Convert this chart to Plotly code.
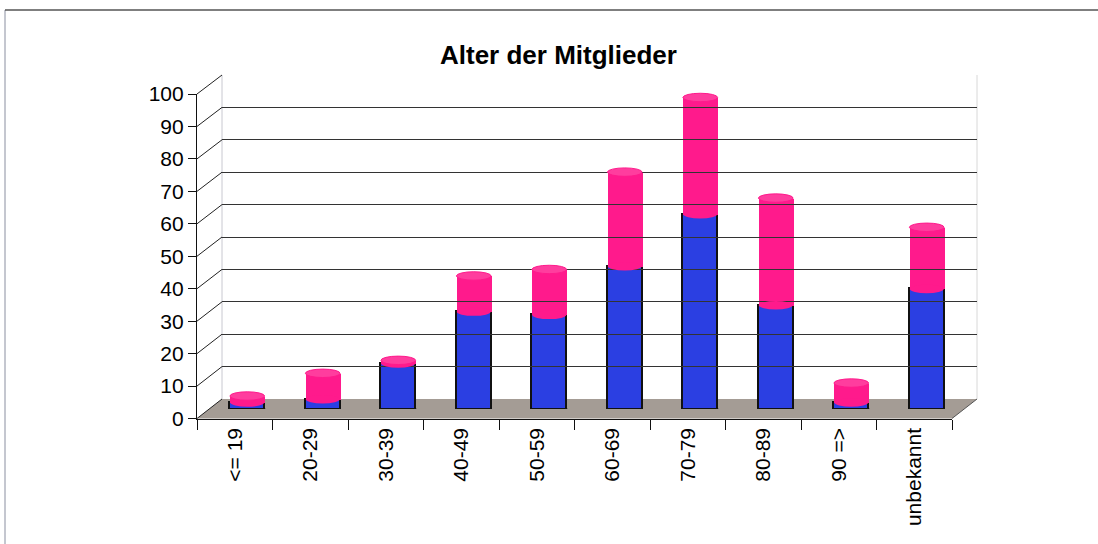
import plotly.graph_objects as go

# ---- data ----
categories = ["<= 19", "20-29", "30-39", "40-49", "50-59", "60-69", "70-79", "80-89", "90 =>", "unbekannt"]
blue_values = [2, 3, 14, 30, 29, 44, 60, 32, 2, 37]
pink_values = [2, 8, 1, 11, 14, 29, 36, 33, 6, 19]
y_ticks = list(range(0, 101, 10))
title_text = "Alter der Mitglieder"

W, H = 1098, 544
BLUE = "#2b3fe2"
PINK = "#ff1a8c"
PINK_TOP = "#ff3d9e"
FLOOR = "#a49c95"


def fx(px):
    return px / W


def fy(py):
    return (H - py) / H


# geometry of the pseudo-3D box (front, middle-depth, back)
FRONT_X = (197, 952); FRONT_Y = (418.5, 94)
MID_X = (209.5, 964.5); MID_Y = (409, 84.5)
BACK_X = (222, 977); BACK_Y = (399, 75)

idx = list(range(len(categories)))
totals = [b + p for b, p in zip(blue_values, pink_values)]
BW = 0.46
CAP = 1.3

fig = go.Figure()

# invisible trace to register the categories on the front axis
fig.add_trace(go.Scatter(x=categories, y=[0] * len(categories), mode="markers",
                         marker=dict(opacity=0), hoverinfo="skip", showlegend=False,
                         xaxis="x", yaxis="y"))
# invisible trace for back wall axes
fig.add_trace(go.Scatter(x=[0], y=[0], mode="markers", marker=dict(opacity=0),
                         hoverinfo="skip", showlegend=False, xaxis="x3", yaxis="y3"))

fig.add_trace(go.Bar(x=idx, y=blue_values, width=BW, marker=dict(color=BLUE, line=dict(color="#111", width=1.5)),
                     xaxis="x2", yaxis="y2", showlegend=False, name="blau"))
fig.add_trace(go.Bar(x=idx, y=pink_values, width=BW, marker=dict(color=PINK, line=dict(width=0)),
                     xaxis="x2", yaxis="y2", showlegend=False, name="pink"))

shapes = []
# floor
shapes.append(dict(type="path", xref="paper", yref="paper", layer="below",
                   path=f"M {fx(FRONT_X[0])},{fy(FRONT_Y[0])} L {fx(FRONT_X[1])},{fy(FRONT_Y[0])} "
                        f"L {fx(BACK_X[1])},{fy(BACK_Y[0])} L {fx(BACK_X[0])},{fy(BACK_Y[0])} Z",
                   fillcolor=FLOOR, line=dict(width=0)))
# back wall edges
shapes.append(dict(type="line", xref="paper", yref="paper", layer="below",
                   x0=fx(BACK_X[0]), x1=fx(BACK_X[0]), y0=fy(BACK_Y[0]), y1=fy(BACK_Y[1]),
                   line=dict(color="#c8c8d0", width=1)))
shapes.append(dict(type="line", xref="paper", yref="paper", layer="below",
                   x0=fx(BACK_X[1]), x1=fx(BACK_X[1]), y0=fy(BACK_Y[0]), y1=fy(BACK_Y[1]),
                   line=dict(color="#d8d8d8", width=1)))
# side wall slant lines
for t in y_ticks:
    yf = FRONT_Y[0] + (FRONT_Y[1] - FRONT_Y[0]) * t / 100
    yb = BACK_Y[0] + (BACK_Y[1] - BACK_Y[0]) * t / 100
    shapes.append(dict(type="line", xref="paper", yref="paper",
                       x0=fx(FRONT_X[0]), y0=fy(yf), x1=fx(BACK_X[0]), y1=fy(yb),
                       line=dict(color="#222", width=1)))
# right floor edge
shapes.append(dict(type="line", xref="paper", yref="paper",
                   x0=fx(FRONT_X[1]), y0=fy(FRONT_Y[0]), x1=fx(BACK_X[1]), y1=fy(BACK_Y[0]),
                   line=dict(color="#555", width=1)))
# cylinder bottoms, boundaries and tops
for i in idx:
    shapes.append(dict(type="circle", xref="x2", yref="y2", layer="below",
                       x0=i - BW / 2, x1=i + BW / 2, y0=-CAP, y1=CAP,
                       fillcolor=BLUE, line=dict(color="#111", width=1.5)))
    shapes.append(dict(type="circle", xref="x2", yref="y2", layer="above",
                       x0=i - BW / 2 + 0.005, x1=i + BW / 2 - 0.005,
                       y0=blue_values[i] - CAP, y1=blue_values[i] + CAP,
                       fillcolor=PINK, line=dict(width=0)))
    shapes.append(dict(type="circle", xref="x2", yref="y2", layer="above",
                       x0=i - BW / 2, x1=i + BW / 2, y0=totals[i] - CAP, y1=totals[i] + CAP,
                       fillcolor=PINK_TOP, line=dict(color=PINK, width=1)))
# outer frame
shapes.append(dict(type="line", xref="paper", yref="paper", x0=fx(5), x1=fx(5), y0=0, y1=fy(10),
                   line=dict(color="#8a8fa0", width=1)))
shapes.append(dict(type="line", xref="paper", yref="paper", x0=fx(5), x1=1, y0=fy(10), y1=fy(10),
                   line=dict(color="#555", width=1.5)))

font_family = "Arial, Liberation Sans, sans-serif"

fig.update_layout(
    width=W, height=H,
    margin=dict(l=0, r=0, t=0, b=0),
    paper_bgcolor="white", plot_bgcolor="rgba(0,0,0,0)",
    barmode="stack", bargap=0,
    showlegend=False,
    font=dict(family=font_family, color="black"),
    shapes=shapes,
    xaxis=dict(domain=[fx(FRONT_X[0]), fx(FRONT_X[1])], anchor="y", type="category",
               categoryorder="array", categoryarray=categories, range=[-0.5, len(categories) - 0.5],
               showline=True, linecolor="#111", linewidth=1.2, ticks="outside", tickson="boundaries",
               ticklen=10, tickcolor="#111", tickangle=-90, tickfont=dict(size=21, family=font_family),
               showgrid=False, zeroline=False, automargin=False),
    yaxis=dict(domain=[fy(FRONT_Y[0]), fy(FRONT_Y[1])], anchor="x", range=[0, 100],
               tickvals=y_ticks, ticks="outside", ticklen=8, tickcolor="#111",
               showline=True, linecolor="#111", linewidth=1.2, showgrid=False, zeroline=False,
               tickfont=dict(size=21, family=font_family), automargin=False),
    xaxis2=dict(domain=[fx(MID_X[0]), fx(MID_X[1])], anchor="y2", range=[-0.5, len(categories) - 0.5],
                visible=False),
    yaxis2=dict(domain=[fy(MID_Y[0]), fy(MID_Y[1])], anchor="x2", range=[0, 100], visible=False),
    xaxis3=dict(domain=[fx(BACK_X[0]), fx(BACK_X[1])], anchor="y3", range=[-0.5, len(categories) - 0.5],
                showgrid=False, showticklabels=False, zeroline=False, showline=False, ticks=""),
    yaxis3=dict(domain=[fy(BACK_Y[0]), fy(BACK_Y[1])], anchor="x3", range=[0, 100],
                tickvals=y_ticks, showgrid=True, gridcolor="#333", gridwidth=1,
                showticklabels=False, zeroline=False, showline=False, ticks=""),
    annotations=[dict(text=f"<b>{title_text}</b>", xref="paper", yref="paper",
                      x=fx(558), y=fy(55), xanchor="center", yanchor="middle",
                      showarrow=False, font=dict(size=26, family=font_family, color="black"))],
)

fig.write_html("out.html", config={"displayModeBar": False},
               post_script="document.body.style.margin='0';document.body.style.padding='0';")
